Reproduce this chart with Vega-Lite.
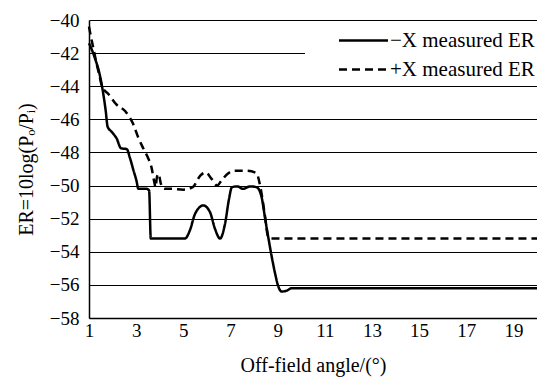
{
  "$schema": "https://vega.github.io/schema/vega-lite/v6.json",
  "width": 448,
  "height": 298,
  "autosize": {"type": "none"},
  "padding": {"left": 89, "top": 20, "right": 0, "bottom": 62},
  "background": "white",
  "config": {
    "view": {"stroke": null},
    "font": "Liberation Serif",
    "axis": {"labelFont": "Liberation Serif", "titleFont": "Liberation Serif"},
    "legend": {"labelFont": "Liberation Serif"}
  },
  "data": {
    "values": [
      {"series": "−X measured ER", "angle": 1.0, "er": -41.4},
      {"series": "−X measured ER", "angle": 1.25, "er": -42.3},
      {"series": "−X measured ER", "angle": 1.47, "er": -43.4},
      {"series": "−X measured ER", "angle": 1.61, "er": -44.5},
      {"series": "−X measured ER", "angle": 1.71, "er": -45.5},
      {"series": "−X measured ER", "angle": 1.79, "er": -46.45},
      {"series": "−X measured ER", "angle": 1.96, "er": -46.75},
      {"series": "−X measured ER", "angle": 2.17, "er": -47.15},
      {"series": "−X measured ER", "angle": 2.36, "er": -47.75},
      {"series": "−X measured ER", "angle": 2.6, "er": -47.8},
      {"series": "−X measured ER", "angle": 2.74, "er": -48.35},
      {"series": "−X measured ER", "angle": 2.88, "er": -49.05},
      {"series": "−X measured ER", "angle": 3.02, "er": -49.75},
      {"series": "−X measured ER", "angle": 3.09, "er": -50.2},
      {"series": "−X measured ER", "angle": 3.45, "er": -50.2},
      {"series": "−X measured ER", "angle": 3.55, "er": -50.3},
      {"series": "−X measured ER", "angle": 3.62, "er": -53.2},
      {"series": "−X measured ER", "angle": 5.07, "er": -53.2},
      {"series": "−X measured ER", "angle": 5.28, "er": -52.7},
      {"series": "−X measured ER", "angle": 5.5, "er": -51.7},
      {"series": "−X measured ER", "angle": 5.85, "er": -51.2},
      {"series": "−X measured ER", "angle": 6.13, "er": -51.6},
      {"series": "−X measured ER", "angle": 6.34, "er": -52.6},
      {"series": "−X measured ER", "angle": 6.56, "er": -53.2},
      {"series": "−X measured ER", "angle": 6.77, "er": -52.3},
      {"series": "−X measured ER", "angle": 6.94, "er": -50.8},
      {"series": "−X measured ER", "angle": 7.06, "er": -50.1},
      {"series": "−X measured ER", "angle": 7.28, "er": -50.05},
      {"series": "−X measured ER", "angle": 7.54, "er": -50.2},
      {"series": "−X measured ER", "angle": 7.83, "er": -50.05},
      {"series": "−X measured ER", "angle": 8.11, "er": -50.1},
      {"series": "−X measured ER", "angle": 8.32, "er": -50.7},
      {"series": "−X measured ER", "angle": 8.46, "er": -51.9},
      {"series": "−X measured ER", "angle": 8.6, "er": -53.1},
      {"series": "−X measured ER", "angle": 8.75, "er": -54.3},
      {"series": "−X measured ER", "angle": 8.89, "er": -55.3},
      {"series": "−X measured ER", "angle": 9.03, "er": -56.1},
      {"series": "−X measured ER", "angle": 9.17, "er": -56.4},
      {"series": "−X measured ER", "angle": 9.38, "er": -56.35},
      {"series": "−X measured ER", "angle": 9.6, "er": -56.2},
      {"series": "−X measured ER", "angle": 20.0, "er": -56.2},
      {"series": "+X measured ER", "angle": 1.0, "er": -40.4},
      {"series": "+X measured ER", "angle": 1.08, "er": -41.0},
      {"series": "+X measured ER", "angle": 1.2, "er": -41.8},
      {"series": "+X measured ER", "angle": 1.3, "er": -42.5},
      {"series": "+X measured ER", "angle": 1.45, "er": -43.4},
      {"series": "+X measured ER", "angle": 1.55, "er": -44.0},
      {"series": "+X measured ER", "angle": 1.84, "er": -44.5},
      {"series": "+X measured ER", "angle": 2.16, "er": -45.1},
      {"series": "+X measured ER", "angle": 2.53, "er": -45.5},
      {"series": "+X measured ER", "angle": 2.88, "er": -46.3},
      {"series": "+X measured ER", "angle": 3.09, "er": -47.1},
      {"series": "+X measured ER", "angle": 3.3, "er": -47.75},
      {"series": "+X measured ER", "angle": 3.51, "er": -48.35},
      {"series": "+X measured ER", "angle": 3.65, "er": -48.9},
      {"series": "+X measured ER", "angle": 3.77, "er": -49.8},
      {"series": "+X measured ER", "angle": 3.82, "er": -50.1},
      {"series": "+X measured ER", "angle": 3.88, "er": -49.5},
      {"series": "+X measured ER", "angle": 3.95, "er": -49.3},
      {"series": "+X measured ER", "angle": 4.05, "er": -49.9},
      {"series": "+X measured ER", "angle": 4.2, "er": -50.2},
      {"series": "+X measured ER", "angle": 4.5, "er": -50.2},
      {"series": "+X measured ER", "angle": 5.0, "er": -50.25},
      {"series": "+X measured ER", "angle": 5.4, "er": -50.1},
      {"series": "+X measured ER", "angle": 5.72, "er": -49.4},
      {"series": "+X measured ER", "angle": 5.95, "er": -49.2},
      {"series": "+X measured ER", "angle": 6.2, "er": -49.6},
      {"series": "+X measured ER", "angle": 6.43, "er": -50.0},
      {"series": "+X measured ER", "angle": 6.62, "er": -49.7},
      {"series": "+X measured ER", "angle": 6.87, "er": -49.3},
      {"series": "+X measured ER", "angle": 7.2, "er": -49.1},
      {"series": "+X measured ER", "angle": 7.7, "er": -49.1},
      {"series": "+X measured ER", "angle": 8.1, "er": -49.25},
      {"series": "+X measured ER", "angle": 8.27, "er": -50.1},
      {"series": "+X measured ER", "angle": 8.45, "er": -51.7},
      {"series": "+X measured ER", "angle": 8.6, "er": -53.1},
      {"series": "+X measured ER", "angle": 8.7, "er": -53.2},
      {"series": "+X measured ER", "angle": 20.0, "er": -53.2}
    ]
  },
  "mark": {"type": "line", "color": "black", "strokeWidth": 2.5, "interpolate": "monotone"},
  "encoding": {
    "x": {
      "field": "angle",
      "type": "quantitative",
      "scale": {"domain": [1, 20], "nice": false, "zero": false},
      "axis": {
        "values": [1, 3, 5, 7, 9, 11, 13, 15, 17, 19],
        "grid": false,
        "ticks": false,
        "domainColor": "black",
        "domainWidth": 1.5,
        "labelFont": "Liberation Serif",
        "labelFontSize": 19,
        "labelColor": "black",
        "labelPadding": 3,
        "labelFlush": false,
        "title": "Off-field angle/(°)",
        "titleFont": "Liberation Serif",
        "titleFontSize": 20,
        "titleFontWeight": "normal",
        "titleColor": "black",
        "titlePadding": 15
      }
    },
    "y": {
      "field": "er",
      "type": "quantitative",
      "scale": {"domain": [-58, -40], "nice": false, "zero": false},
      "axis": {
        "values": [-58, -56, -54, -52, -50, -48, -46, -44, -42, -40],
        "grid": true,
        "gridColor": "black",
        "gridWidth": 1.2,
        "gridOpacity": 1,
        "ticks": false,
        "domainColor": "black",
        "domainWidth": 1.5,
        "labelFont": "Liberation Serif",
        "labelFontSize": 19,
        "labelColor": "black",
        "labelPadding": 10,
        "labelFlush": false,
        "title": "ER=10log(Pₒ/Pᵢ)",
        "titleFont": "Liberation Serif",
        "titleFontSize": 20,
        "titleFontWeight": "normal",
        "titleColor": "black",
        "titlePadding": 13
      }
    },
    "strokeDash": {
      "field": "series",
      "type": "nominal",
      "sort": ["−X measured ER", "+X measured ER"],
      "scale": {"domain": ["−X measured ER", "+X measured ER"], "range": [[1, 0], [8, 5]]},
      "legend": {
        "title": null,
        "orient": "none",
        "legendX": 216,
        "legendY": 6,
        "fillColor": "white",
        "padding": 4,
        "symbolOffset": 44,
        "symbolType": "M-4.9,0H4.9",
        "symbolSize": 100,
        "symbolStrokeWidth": 2.5,
        "symbolStrokeColor": "black",
        "labelFont": "Liberation Serif",
        "labelFontSize": 21,
        "labelColor": "black",
        "labelOffset": 16,
        "rowPadding": 7
      }
    }
  }
}
